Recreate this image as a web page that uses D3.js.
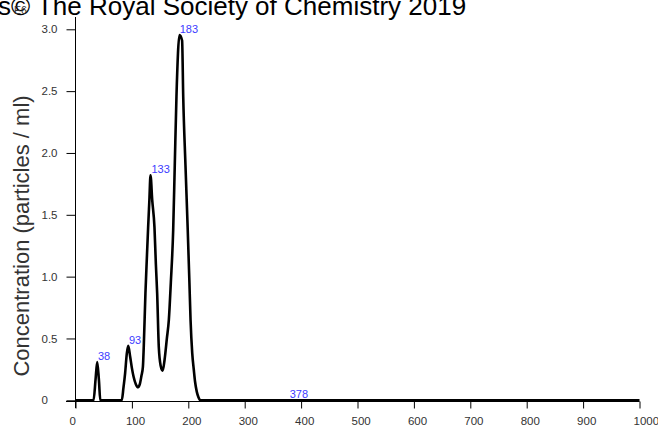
<!DOCTYPE html>
<html><head><meta charset="utf-8">
<script src="https://cdn.jsdelivr.net/npm/d3@7/dist/d3.min.js"></script>
<style>html,body{margin:0;padding:0;background:#fff;overflow:hidden}</style>
</head><body>
<svg id="c" width="658" height="427"></svg>
<script>
// size (nm)
const sizes = [0, 32, 35.5, 38.5, 41.5, 44, 82, 85, 88, 91, 93.5, 97, 100, 103, 107, 111, 114, 117, 119.5, 121, 124, 126.5, 128.8, 131, 133, 136, 140, 142.5, 144.8, 147.7, 151, 154.5, 158, 162, 165.5, 169, 173.2, 176, 179, 184.4, 189, 191, 195, 199, 202, 204, 207, 209.8, 212, 215, 218, 222, 240, 378, 1000];
// concentration (E6 particles / ml)
const conc  = [0, 0, 0.165, 0.31, 0.165, 0, 0, 0.1, 0.22, 0.38, 0.44, 0.35, 0.26, 0.19, 0.13, 0.105, 0.13, 0.2, 0.27, 0.43, 0.865, 1.15, 1.40, 1.62, 1.82, 1.62, 1.40, 1.1, 0.865, 0.43, 0.28, 0.24, 0.33, 0.5, 0.65, 0.95, 1.377, 1.9, 2.455, 2.954, 2.91, 2.455, 1.9, 1.377, 0.95, 0.65, 0.38, 0.245, 0.15, 0.07, 0.025, 0, 0, 0, 0];
const peakSizes = [38, 93, 133, 183, 378];
const peakVals  = [0.31, 0.44, 1.82, 2.954, 0];
const xTicks = [0, 100, 200, 300, 400, 500, 600, 700, 800, 900, 1000];
const yTicks = [0, 0.5, 1.0, 1.5, 2.0, 2.5, 3.0];
const yTickLabels = ["0", "0.5", "1.0", "1.5", "2.0", "2.5", "3.0"];

const svg = d3.select("#c");
const font = "Liberation Sans, Arial, sans-serif";
const x = d3.scaleLinear().domain([0, 1000]).range([75.5, 639.5]);
const y = d3.scaleLinear().domain([0, 3.0]).range([400.3, 29.3]);

// title (cropped)
svg.append("text").attr("x", -2).attr("y", 15)
  .attr("font-family", font).attr("font-size", 26).attr("fill", "#000")
  .text("s\u00A9 The Royal Society of Chemistry 2019");

svg.append("text").attr("x", 14).attr("y", 14)
  .attr("font-family", font).attr("font-size", 10.5).attr("fill", "#333")
  .text("E6");

// y axis
const yAxis = d3.axisLeft(y).tickValues(yTicks)
  .tickFormat((d, i) => yTickLabels[i]).tickSize(9).tickPadding(9);
const gy = svg.append("g").attr("transform", "translate(75.5,0)").call(yAxis);
gy.select(".domain").remove();
gy.append("line").attr("x1", 0).attr("x2", 0).attr("y1", 17).attr("y2", 408).attr("stroke", "#000");
gy.selectAll(".tick line").attr("stroke", "#000");
gy.selectAll(".tick text").attr("font-family", font).attr("font-size", 11.5).attr("fill", "#333")
  .attr("text-anchor", "start").attr("x", -34);

// x axis
const xAxis = d3.axisBottom(x).tickValues(xTicks).tickFormat(d3.format("d")).tickSize(7).tickPadding(8);
const gx = svg.append("g").attr("transform", "translate(0,401.5)").call(xAxis);
gx.select(".domain").remove();
gx.append("line").attr("x1", 66).attr("x2", 639.5).attr("y1", 0).attr("y2", 0).attr("stroke", "#000");
gx.selectAll(".tick line").attr("stroke", "#000");
gx.selectAll(".tick text").attr("font-family", font).attr("font-size", 11.5).attr("fill", "#333")
  .attr("text-anchor", "start").attr("x", -6.5);

// y title
svg.append("text")
  .attr("transform", "translate(29,236) rotate(-90)")
  .attr("text-anchor", "middle")
  .attr("font-family", font).attr("font-size", 22).attr("fill", "#333")
  .text("Concentration (particles / ml)");

// curve
const pts = sizes.map((s, i) => [s, conc[i]]);
svg.append("path").datum(pts)
  .attr("d", d3.line().x(d => x(d[0])).y(d => y(d[1])).curve(d3.curveMonotoneX))
  .attr("fill", "none").attr("stroke", "#000").attr("stroke-width", 2.6)
  .attr("stroke-linejoin", "round");

// peak labels
svg.selectAll(".pk").data(peakSizes).enter().append("text")
  .attr("x", d => x(d) + 1)
  .attr("y", (d, i) => y(peakVals[i]) - 2)
  .attr("font-family", font).attr("font-size", 11).attr("fill", "#3c3cff")
  .text(d => d);
</script>
</body></html>
